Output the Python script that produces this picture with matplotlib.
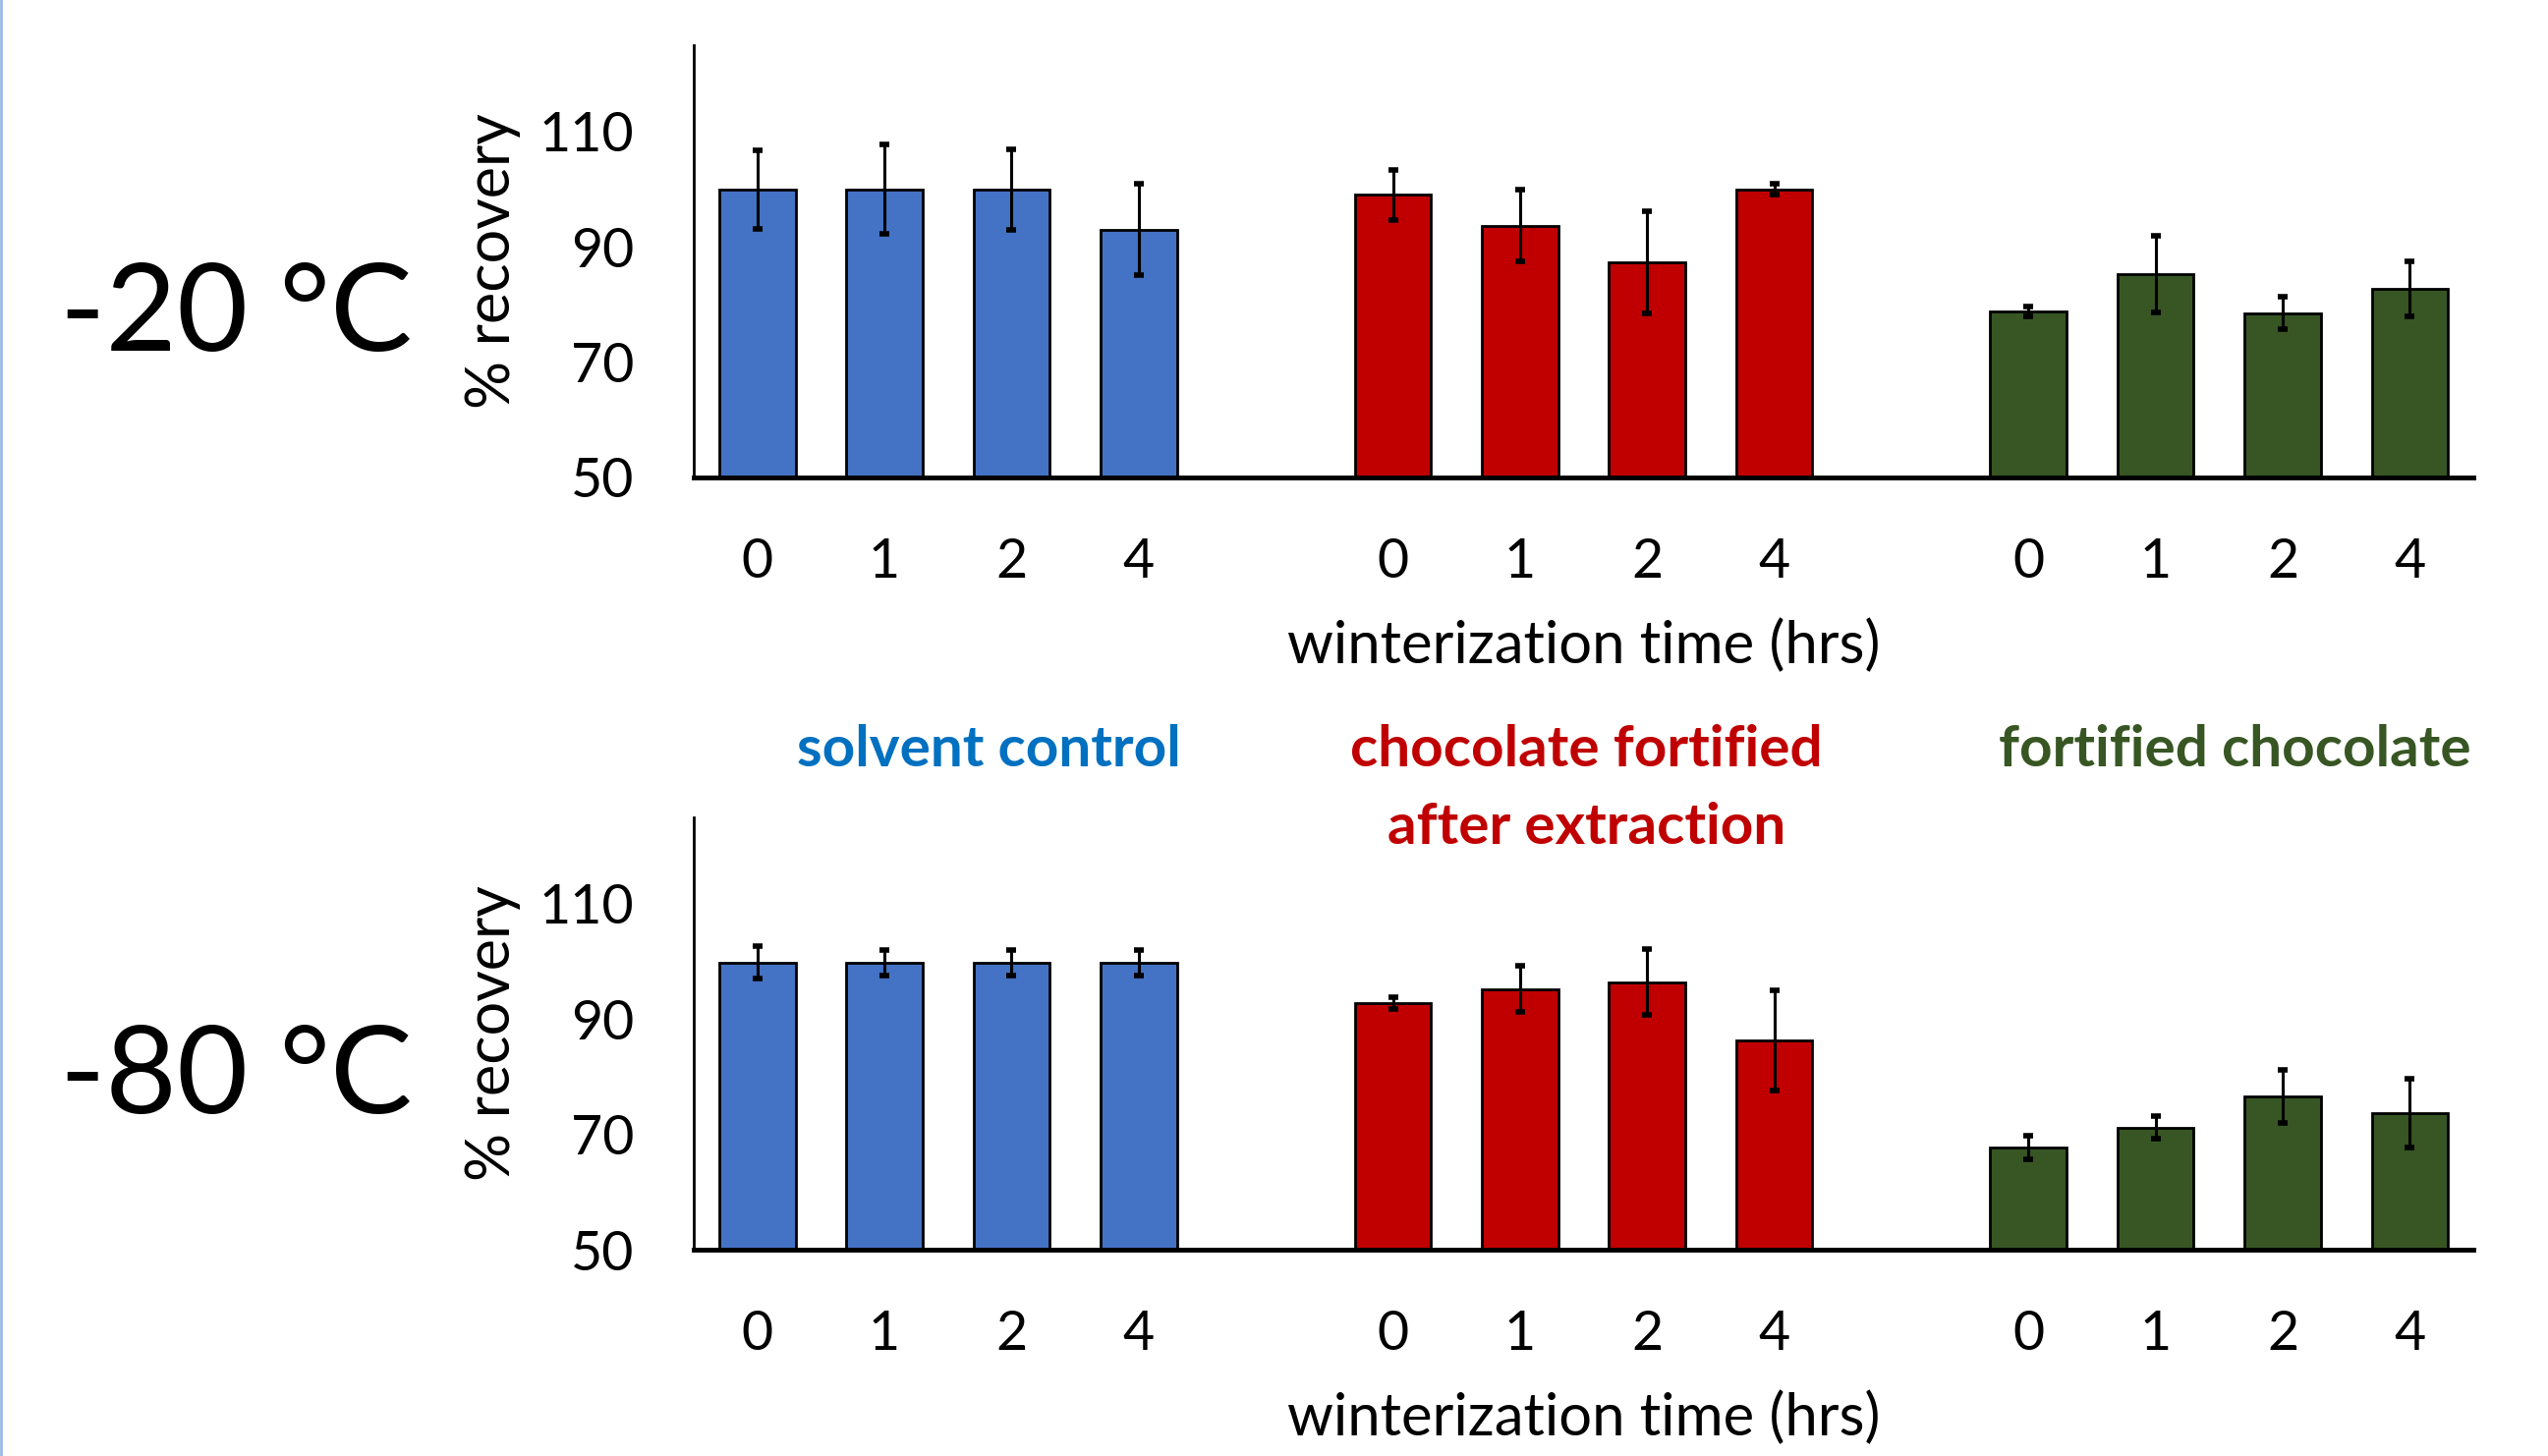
import matplotlib.pyplot as plt
import numpy as np

plt.rcParams['font.family'] = ['Lato', 'DejaVu Sans']

# data
hours = ["0", "1", "2", "4"]
groups = ["solvent control", "chocolate fortified\nafter extraction", "fortified chocolate"]
bar_colors = ["#4472C4", "#C00000", "#375623"]
label_colors = ["#0070C0", "#C00000", "#375623"]

# -20 C
m20_solvent = [100.0, 100.0, 100.0, 93.0]
m20_solvent_err = [6.8, 7.7, 7.0, 7.9]
m20_post = [99.0, 93.7, 87.3, 100.0]
m20_post_err = [4.3, 6.2, 8.8, 0.9]
m20_fort = [78.8, 85.3, 78.5, 82.7]
m20_fort_err = [0.9, 6.7, 2.8, 4.8]

# -80 C
m80_solvent = [99.8, 99.8, 99.8, 99.8]
m80_solvent_err = [2.8, 2.2, 2.2, 2.2]
m80_post = [92.8, 95.2, 96.4, 86.3]
m80_post_err = [1.0, 4.0, 5.7, 8.7]
m80_fort = [67.7, 71.2, 76.6, 73.7]
m80_fort_err = [2.1, 2.0, 4.6, 5.9]

panels = [
    ("-20 °C", [m20_solvent, m20_post, m20_fort], [m20_solvent_err, m20_post_err, m20_fort_err]),
    ("-80 °C", [m80_solvent, m80_post, m80_fort], [m80_solvent_err, m80_post_err, m80_fort_err]),
]

fig = plt.figure(figsize=(25.93, 14.82), dpi=100)
axes_boxes = [[0.2723, 0.6721, 0.6984, 0.2969], [0.2723, 0.1417, 0.6984, 0.2969]]
temp_y = [0.783, 0.259]

for (temp, vals, errs), box, ty in zip(panels, axes_boxes, temp_y):
    ax = fig.add_axes(box)
    ticks = []
    for g in range(3):
        x = np.arange(4) + g * 5
        ticks.extend(x)
        ax.bar(x, vals[g], width=0.6, color=bar_colors[g],
               edgecolor="black", linewidth=2, zorder=2)
        ax.errorbar(x, vals[g], yerr=errs[g], fmt="none", ecolor="black",
                    elinewidth=2.2, capsize=3.5, capthick=4, zorder=3)
    ax.set_xlim(-0.5, 13.5)
    ax.set_ylim(50, 125)
    ax.set_yticks([50, 70, 90, 110])
    ax.set_xticks(ticks)
    ax.set_xticklabels(hours * 3)
    ax.tick_params(axis="both", length=0, labelsize=40)
    ax.tick_params(axis="y", pad=44)
    ax.tick_params(axis="x", pad=44)
    for s in ["top", "right"]:
        ax.spines[s].set_visible(False)
    ax.spines["left"].set_linewidth(2)
    ax.spines["bottom"].set_linewidth(3.5)
    ax.set_ylabel("% recovery", fontsize=44)
    ax.yaxis.set_label_coords(-0.097, 0.5)
    ax.set_xlabel("winterization time (hrs)", fontsize=43, va="center")
    ax.xaxis.set_label_coords(0.5, -0.39)
    fig.text(0.0925, ty, temp, fontsize=90, ha="center", va="center")

# group labels between the panels
group_x = [0.388, 0.6225, 0.877]
line_y = [0.4845, 0.4315]
for name, col, gx in zip(groups, label_colors, group_x):
    for k, line in enumerate(name.split("\n")):
        fig.text(gx, line_y[k], line, color=col, fontsize=42, fontweight="bold",
                 ha="center", va="center")

# thin blue line at left edge
fig.add_artist(plt.Line2D([0.0004, 0.0004], [0, 1], color="#9DB9E8", linewidth=2,
                          transform=fig.transFigure))

fig.savefig("out.png", dpi=100)
